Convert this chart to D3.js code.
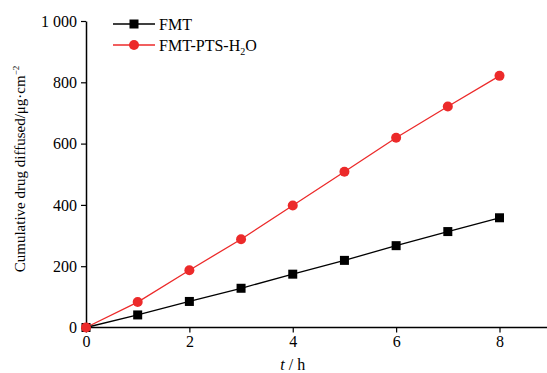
<!DOCTYPE html>
<html>
<head>
<meta charset="utf-8">
<script src="https://cdn.jsdelivr.net/npm/d3@7"></script>
<style>
  body { margin: 0; background: #fff; }
  svg { font-family: "Liberation Serif", "Times New Roman", serif; }
</style>
</head>
<body>
<div id="chart"></div>
<script>
// data
var hours = [0, 1, 2, 3, 4, 5, 6, 7, 8];
var fmt = [0, 41, 85, 128, 174, 219, 267, 313, 358];
var fmtPtsH2O = [0, 83, 187, 288, 398, 508, 619, 721, 821];
var xTicks = [0, 2, 4, 6, 8];
var yTicks = [0, 200, 400, 600, 800, 1000];
var seriesNames = ["FMT", "FMT-PTS-H2O"];

var svgWidth = 547;
var svgHeight = 373;

var margin = { top: 21, left: 86, bottom: 45, right: 0 };
var chartWidth = svgWidth - margin.left - margin.right;
var chartHeight = svgHeight - margin.top - margin.bottom - 0.5;

var svg = d3.select("#chart").append("svg")
  .attr("width", svgWidth)
  .attr("height", svgHeight);

var g = svg.append("g")
  .attr("transform", "translate(" + margin.left + "," + margin.top + ")");

var xScale = d3.scaleLinear().domain([0, 8]).range([0, 413.5]);
var yScale = d3.scaleLinear().domain([0, 1000]).range([chartHeight, 0]);

// tick label with space as thousands separator
var fmtTick = function(d) { return d >= 1000 ? d3.format(",")(d).replace(",", " ") : d; };

var xAxis = g.append("g")
  .attr("transform", "translate(0," + chartHeight + ")")
  .call(d3.axisBottom(xScale).tickValues(xTicks).tickSize(5).tickSizeOuter(0));
xAxis.select(".domain").attr("d", "M0,0H" + chartWidth);

var yAxis = g.append("g")
  .call(d3.axisLeft(yScale).tickValues(yTicks).tickSize(5).tickSizeOuter(0).tickFormat(fmtTick));

svg.selectAll(".domain").attr("stroke", "#000").attr("stroke-width", 1.5);
svg.selectAll(".tick line").attr("stroke", "#000").attr("stroke-width", 1.2);
svg.selectAll(".tick text")
  .attr("font-family", "Liberation Serif, serif")
  .attr("font-size", 16)
  .attr("fill", "#000");
xAxis.selectAll(".tick text").attr("dy", "0.8em").attr("y", 7);
yAxis.selectAll(".tick text").attr("x", -9);

var line = d3.line()
  .x(function(d, i) { return xScale(hours[i]); })
  .y(function(d) { return yScale(d); });

var red = "#ec2a2a";

// red series
g.append("path")
  .datum(fmtPtsH2O)
  .attr("fill", "none")
  .attr("stroke", red)
  .attr("stroke-width", 1.3)
  .attr("d", line);

// black series
g.append("path")
  .datum(fmt)
  .attr("fill", "none")
  .attr("stroke", "#000")
  .attr("stroke-width", 1.3)
  .attr("d", line);

g.selectAll(".sq").data(fmt).enter()
  .append("rect")
  .attr("class", "sq")
  .attr("x", function(d, i) { return xScale(hours[i]) - 4.5; })
  .attr("y", function(d) { return yScale(d) - 4.5; })
  .attr("width", 9)
  .attr("height", 9)
  .attr("fill", "#000");

g.selectAll(".dot").data(fmtPtsH2O).enter()
  .append("circle")
  .attr("class", "dot")
  .attr("cx", function(d, i) { return xScale(hours[i]); })
  .attr("cy", function(d) { return yScale(d); })
  .attr("r", 5)
  .attr("fill", red);

// legend
var legend = svg.append("g");
legend.append("line").attr("x1", 113).attr("x2", 155).attr("y1", 24).attr("y2", 24)
  .attr("stroke", "#000").attr("stroke-width", 1.3);
legend.append("rect").attr("x", 129.5).attr("y", 19.5).attr("width", 9).attr("height", 9).attr("fill", "#000");
legend.append("text").attr("x", 159).attr("y", 29.5).attr("font-size", 16).text(seriesNames[0]);

legend.append("line").attr("x1", 113).attr("x2", 155).attr("y1", 45).attr("y2", 45)
  .attr("stroke", red).attr("stroke-width", 1.3);
legend.append("circle").attr("cx", 134).attr("cy", 45).attr("r", 5).attr("fill", red);
var t2 = legend.append("text").attr("x", 159).attr("y", 50.5).attr("font-size", 16);
t2.append("tspan").text("FMT-PTS-H");
t2.append("tspan").attr("font-size", 10).attr("dy", 4).text("2");
t2.append("tspan").attr("dy", -4).text("O");

// axis titles
var xt = svg.append("text")
  .attr("x", margin.left + xScale(4))
  .attr("y", 370)
  .attr("text-anchor", "middle")
  .attr("font-size", 16);
xt.append("tspan").attr("font-style", "italic").text("t");
xt.append("tspan").text(" / h");

var yt = svg.append("text")
  .attr("transform", "translate(25,169) rotate(-90)")
  .attr("text-anchor", "middle")
  .attr("font-size", 15);
yt.append("tspan").text("Cumulative drug diffused/\u03bcg\u00b7cm");
yt.append("tspan").attr("font-size", 9).attr("dy", -6).text("\u22122");
</script>
</body>
</html>
